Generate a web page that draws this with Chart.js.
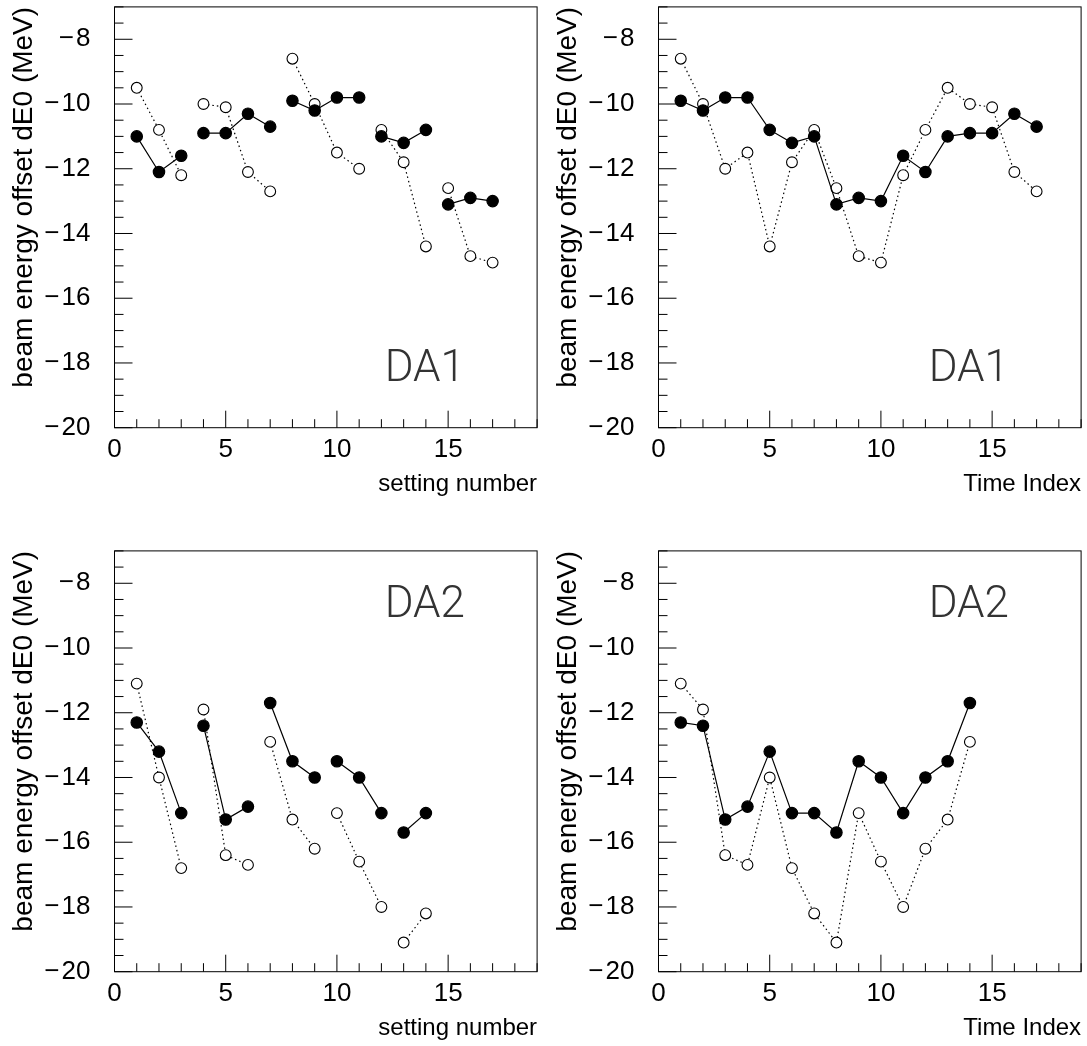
<!DOCTYPE html>
<html>
<head>
<meta charset="utf-8">
<script src="https://cdn.jsdelivr.net/npm/chart.js@4.4.0/dist/chart.umd.min.js"></script>
<style>
  html, body { margin: 0; padding: 0; background: #fff; }
  body { width: 1087px; height: 1046px; position: relative; overflow: hidden; }
  .panel { position: absolute; width: 544px; height: 502px; }
</style>
</head>
<body>
<div class="panel" style="left:0;top:0"><canvas id="c1" width="544" height="502"></canvas></div>
<div class="panel" style="left:544px;top:0"><canvas id="c2" width="544" height="502"></canvas></div>
<div class="panel" style="left:0;top:544px"><canvas id="c3" width="544" height="502"></canvas></div>
<div class="panel" style="left:544px;top:544px"><canvas id="c4" width="544" height="502"></canvas></div>
<script>
// DA1 vs setting number (line breaks after the listed settings)
const settingDA1 = [1, 2, 3, 4, 5, 6, 7, 8, 9, 10, 11, 12, 13, 14, 15, 16, 17]
const da1SettingFilled = [-11.0, -12.1, -11.6, -10.9, -10.9, -10.3, -10.7, -9.9, -10.2, -9.8, -9.8, -11.0, -11.2, -10.8, -13.1, -12.9, -13.0]
const da1SettingOpen = [-9.5, -10.8, -12.2, -10.0, -10.1, -12.1, -12.7, -8.6, -10.0, -11.5, -12.0, -10.8, -11.8, -14.4, -12.6, -14.7, -14.9]
const da1GroupEnds = [3, 7, 11, 14]

// DA1 vs time index
const timeDA1 = [1, 2, 3, 4, 5, 6, 7, 8, 9, 10, 11, 12, 13, 14, 15, 16, 17]
const da1TimeFilled = [-9.9, -10.2, -9.8, -9.8, -10.8, -11.2, -11.0, -13.1, -12.9, -13.0, -11.6, -12.1, -11.0, -10.9, -10.9, -10.3, -10.7]
const da1TimeOpen = [-8.6, -10.0, -12.0, -11.5, -14.4, -11.8, -10.8, -12.6, -14.7, -14.9, -12.2, -10.8, -9.5, -10.0, -10.1, -12.1, -12.7]

// DA2 vs setting number
const settingDA2 = [1, 2, 3, 4, 5, 6, 7, 8, 9, 10, 11, 12, 13, 14]
const da2SettingFilled = [-12.3, -13.2, -15.1, -12.4, -15.3, -14.9, -11.7, -13.5, -14.0, -13.5, -14.0, -15.1, -15.7, -15.1]
const da2SettingOpen = [-11.1, -14.0, -16.8, -11.9, -16.4, -16.7, -12.9, -15.3, -16.2, -15.1, -16.6, -18.0, -19.1, -18.2]
const da2GroupEnds = [3, 6, 9, 12]

// DA2 vs time index
const timeDA2 = [1, 2, 3, 4, 5, 6, 7, 8, 9, 10, 11, 12, 13, 14]
const da2TimeFilled = [-12.3, -12.4, -15.3, -14.9, -13.2, -15.1, -15.1, -15.7, -13.5, -14.0, -15.1, -14.0, -13.5, -11.7]
const da2TimeOpen = [-11.1, -11.9, -16.4, -16.7, -14.0, -16.8, -18.2, -19.1, -15.1, -16.6, -18.0, -16.2, -15.3, -12.9]

const xTicks = [0, 5, 10, 15]
const yTicks = [-20, -18, -16, -14, -12, -10, -8]

const FONT = '"Liberation Sans", Arial, Helvetica, sans-serif'

// frame, inward ticks and the DA tag
const frameTicks = {
  id: 'frameTicks',
  beforeDatasetsDraw(chart, args, opts) {
    const {ctx, chartArea: a, scales: {x, y}} = chart
    ctx.save()
    ctx.strokeStyle = '#000'
    ctx.lineWidth = 1
    ctx.strokeRect(a.left, a.top, a.right - a.left, a.bottom - a.top)
    ctx.beginPath()
    for (let v = x.min; v <= x.max; v++) {
      const px = x.getPixelForValue(v)
      const len = v % 5 === 0 ? 17 : 8.5
      ctx.moveTo(px, a.bottom)
      ctx.lineTo(px, a.bottom - len)
    }
    for (let k = 0; y.min + k * 0.5 <= y.max; k++) {
      const v = y.min + k * 0.5
      const py = y.getPixelForValue(v)
      const len = v % 2 === 0 ? 18 : 9
      ctx.moveTo(a.left, py)
      ctx.lineTo(a.left + len, py)
    }
    ctx.stroke()

    ctx.font = '300 44px Roboto, ' + FONT
    ctx.fillStyle = '#333'
    ctx.textBaseline = 'alphabetic'
    ctx.fillText(opts.tag, x.getPixelForValue(opts.tagX), y.getPixelForValue(opts.tagY))
    ctx.restore()
  }
}

function makePanel(id, xs, filled, open, groupEnds, xTitle, tag, tagY) {
  const cut = ctx => groupEnds.includes(xs[ctx.p0DataIndex]) ? 'rgba(0,0,0,0)' : undefined
  new Chart(document.getElementById(id), {
    type: 'scatter',
    data: {
      datasets: [{
        data: xs.map((x, i) => ({x: x, y: filled[i]})),
        showLine: true,
        borderColor: '#000',
        borderWidth: 1.2,
        pointRadius: 5.7,
        pointBackgroundColor: '#000',
        pointBorderColor: '#000',
        segment: {borderColor: cut}
      }, {
        data: xs.map((x, i) => ({x: x, y: open[i]})),
        showLine: true,
        borderColor: '#000',
        borderWidth: 1.2,
        borderDash: [1.5, 3],
        pointRadius: 5.4,
        pointBorderWidth: 1.1,
        pointBackgroundColor: '#fff',
        pointBorderColor: '#000',
        segment: {borderColor: cut}
      }]
    },
    options: {
      responsive: false,
      animation: false,
      devicePixelRatio: 1,
      layout: {padding: {left: 0, top: 4.3, right: 6.2, bottom: 0}},
      plugins: {
        legend: {display: false},
        tooltip: {enabled: false},
        frameTicks: {tag: tag, tagX: 12.15, tagY: tagY}
      },
      scales: {
        x: {
          type: 'linear', min: 0, max: 19,
          grid: {display: false, drawTicks: false},
          border: {display: false},
          afterBuildTicks: s => { s.ticks = xTicks.map(v => ({value: v})) },
          ticks: {padding: 7, color: '#000', font: {size: 26, family: FONT}, maxRotation: 0, autoSkip: false},
          title: {display: true, text: xTitle, align: 'end', color: '#000', font: {size: 24, family: FONT}, padding: {top: 0, bottom: 3}},
          afterFit: s => { s.height = 74.3; s.paddingLeft = 0; s.paddingRight = 0 }
        },
        y: {
          min: -20, max: -7,
          grid: {display: false, drawTicks: false},
          border: {display: false},
          afterBuildTicks: s => { s.ticks = yTicks.map(v => ({value: v})) },
          ticks: {padding: 24, color: '#000', font: {size: 26, family: FONT},
                  callback: v => String(v).replace('-', '\u2212\u200a')},
          title: {display: true, text: 'beam energy offset dE0 (MeV)', align: 'end', color: '#000', font: {size: 28, family: FONT}, padding: {top: 7, bottom: 0}},
          afterFit: s => { s.width = 114.5; s.paddingTop = 0; s.paddingBottom = 0 }
        }
      }
    },
    plugins: [frameTicks]
  })
}

makePanel('c1', settingDA1, da1SettingFilled, da1SettingOpen, da1GroupEnds, 'setting number', 'DA1', -18.55)
makePanel('c2', timeDA1, da1TimeFilled, da1TimeOpen, [], 'Time Index', 'DA1', -18.55)
makePanel('c3', settingDA2, da2SettingFilled, da2SettingOpen, da2GroupEnds, 'setting number', 'DA2', -9.05)
makePanel('c4', timeDA2, da2TimeFilled, da2TimeOpen, [], 'Time Index', 'DA2', -9.05)
</script>
</body>
</html>
